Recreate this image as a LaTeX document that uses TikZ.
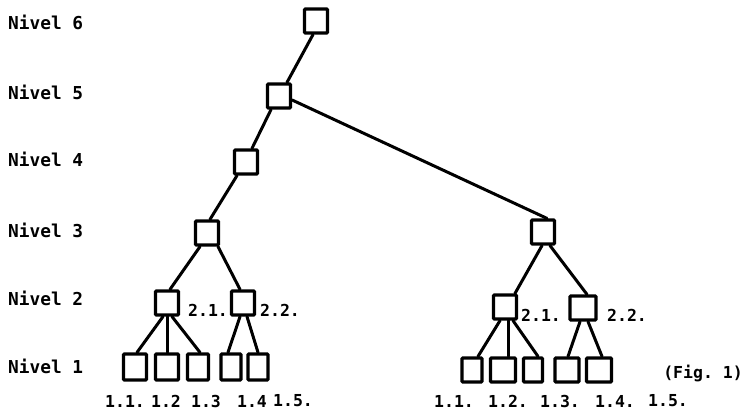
\documentclass[tikz,border=0pt]{standalone}
\usepackage{fontspec}
\setmonofont{DejaVu Sans Mono}
\begin{document}
\begin{tikzpicture}[x=1pt,y=-1pt,
  box/.style={draw,line width=3.2pt,minimum width=23pt,minimum height=24pt,inner sep=0pt,rounded corners=1pt},
  conn/.style={line width=3pt,line cap=round},
  lbl/.style={font=\ttfamily\bfseries\fontsize{16.5}{17}\selectfont,inner sep=0pt},
  lvl/.style={lbl,font=\ttfamily\bfseries\fontsize{17.8}{18}\selectfont,anchor=west}]
\useasboundingbox (0,0) rectangle (749,417);
% level labels
\node[lvl] (v6) at (8,22) {Nivel 6};
\node[lvl] (v5) at (8,92) {Nivel 5};
\node[lvl] (v4) at (8,159) {Nivel 4};
\node[lvl] (v3) at (8,230) {Nivel 3};
\node[lvl] (v2) at (8,298) {Nivel 2};
\node[lvl] (v1) at (8,366) {Nivel 1};
% upper chain
\node[box] (n6) at (316,21) {};
\node[box] (n5) at (279,96) {};
\node[box] (n4) at (246,162) {};
% left subtree
\node[box] (L3) at (207,233) {};
\node[box] (L21) at (167,303) {};
\node[box] (L22) at (243,303) {};
\node[box,minimum height=26pt] (L11) at (135,367) {};
\node[box,minimum height=26pt] (L12) at (167,367) {};
\node[box,minimum height=26pt,minimum width=21pt] (L13) at (198,367) {};
\node[box,minimum height=26pt,minimum width=20pt] (L14) at (231,367) {};
\node[box,minimum height=26pt,minimum width=20pt] (L15) at (258,367) {};
% right subtree
\node[box] (R3) at (543,232) {};
\node[box] (R21) at (505,307) {};
\node[box,minimum width=26pt] (R22) at (583,308) {};
\node[box,minimum width=20pt] (R11) at (472,370) {};
\node[box,minimum width=25pt] (R12) at (503,370) {};
\node[box,minimum width=19pt] (R13) at (533,370) {};
\node[box,minimum width=24pt] (R14) at (567,370) {};
\node[box,minimum width=25pt] (R15) at (599,370) {};
% connectors
\draw[conn] ([xshift=-3pt]n6.south) -- ([xshift=8pt]n5.north);
\draw[conn] ([xshift=-8pt]n5.south) -- ([xshift=6pt]n4.north);
\draw[conn] ([xshift=-9pt]n4.south) -- ([xshift=3pt]L3.north);
\draw[conn] ([yshift=-4pt]n5.east) -- ([xshift=4pt]R3.north);
\draw[conn] ([xshift=-7pt]L3.south) -- ([xshift=3pt]L21.north);
\draw[conn] ([xshift=11pt]L3.south) -- ([xshift=-3pt]L22.north);
\draw[conn] ([xshift=-4pt]L21.south) -- ([xshift=2pt]L11.north);
\draw[conn] (L21.south) -- (L12.north);
\draw[conn] ([xshift=5pt]L21.south) -- ([xshift=2pt]L13.north);
\draw[conn] ([xshift=-3pt]L22.south) -- ([xshift=-3pt]L14.north);
\draw[conn] ([xshift=4pt]L22.south) -- (L15.north);
\draw[conn] ([xshift=-1pt]R3.south) -- ([xshift=10pt]R21.north);
\draw[conn] ([xshift=7pt]R3.south) -- ([xshift=4pt]R22.north);
\draw[conn] ([xshift=-5pt]R21.south) -- ([xshift=6pt]R11.north);
\draw[conn] ([xshift=3pt]R21.south) -- ([xshift=5pt]R12.north);
\draw[conn] ([xshift=8pt]R21.south) -- ([xshift=5pt]R13.north);
\draw[conn] ([xshift=-3pt]R22.south) -- ([xshift=1pt]R14.north);
\draw[conn] ([xshift=5pt]R22.south) -- ([xshift=3pt]R15.north);
% labels
\node[lbl] (a21) at (208,310) {2.1.};
\node[lbl] (a22) at (280,310) {2.2.};
\node[lbl] (b21) at (541,315) {2.1.};
\node[lbl] (b22) at (627,315) {2.2.};
\node[lbl] (fig) at (703,373) {(Fig. 1)};
\node[lbl] (a11) at (125,401) {1.1.};
\node[lbl] (a12) at (166,401) {1.2};
\node[lbl] (a13) at (206,401) {1.3};
\node[lbl] (a14) at (252,401) {1.4};
\node[lbl] (a15) at (293,401) {1.5.};
\node[lbl] (b11) at (454,401) {1.1.};
\node[lbl] (b12) at (508,401) {1.2.};
\node[lbl] (b13) at (560,401) {1.3.};
\node[lbl] (b14) at (615,401) {1.4.};
\node[lbl] (b15) at (668,401) {1.5.};
\end{tikzpicture}
\end{document}
